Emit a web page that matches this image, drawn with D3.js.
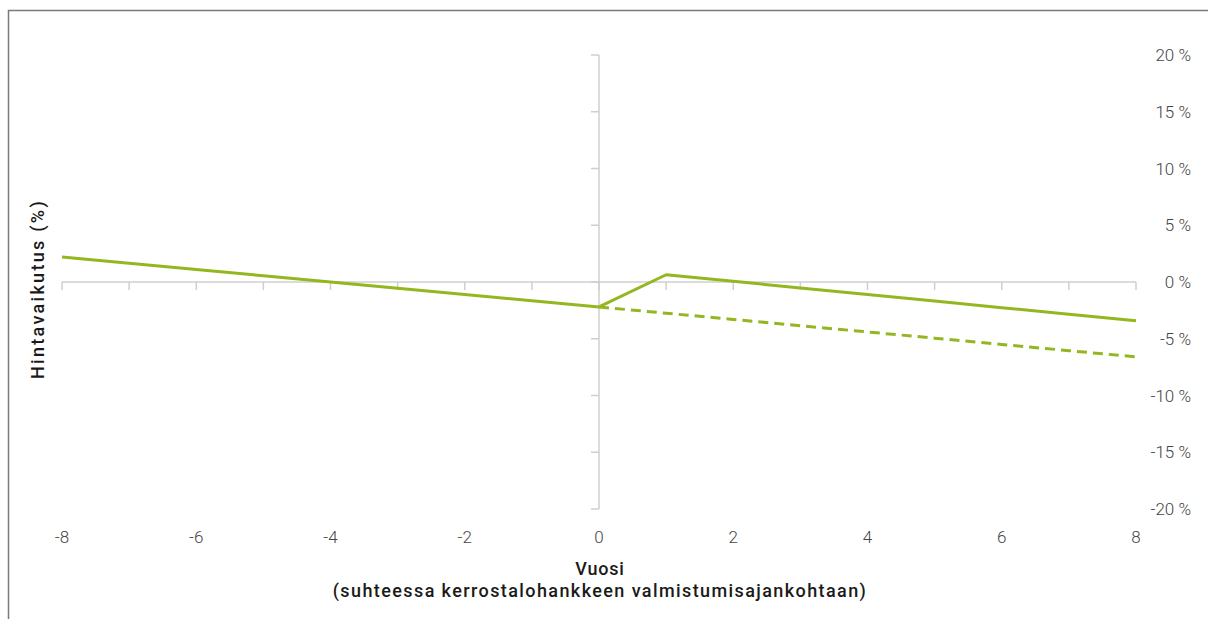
<!DOCTYPE html>
<html><head><meta charset="utf-8">
<script src="https://cdn.jsdelivr.net/npm/d3@7"></script>
<style>body{margin:0;background:#fff;}svg{display:block;}</style>
</head><body>
<svg id="c" width="1208" height="619"></svg>
<script>
const preYears = [-8,-7,-6,-5,-4,-3,-2,-1,0];
const preValues = [2.2,1.65,1.1,0.55,0,-0.55,-1.1,-1.65,-2.2];
const postYears = [0,1,2,3,4,5,6,7,8];
const postValues = [-2.2,0.64,0.06,-0.52,-1.1,-1.68,-2.26,-2.84,-3.42];
const trendYears = [0,1,2,3,4,5,6,7,8];
const trendValues = [-2.2,-2.75,-3.3,-3.85,-4.4,-4.95,-5.5,-6.05,-6.6];
const xTicks = [-8,-6,-4,-2,0,2,4,6,8];
const yTicks = [20,15,10,5,0,-5,-10,-15,-20];

const svg = d3.select('#c');
const x = d3.scaleLinear().domain([-8,8]).range([62,1136]);
const y = d3.scaleLinear().domain([-20,20]).range([509,55]);
const axisCol = '#cfcfcf';
const green = '#94b720';

// frame
svg.append('path').attr('d','M8.5,619 L8.5,10.5 L1208,10.5').attr('fill','none').attr('stroke','#7a7a7a').attr('stroke-width',1.5);

// horizontal axis
svg.append('line').attr('x1',x(-8)).attr('x2',x(8)).attr('y1',y(0)).attr('y2',y(0)).attr('stroke',axisCol).attr('stroke-width',1.5);
svg.selectAll('.xt').data(d3.range(-8,9)).enter().append('line')
  .attr('x1',d=>x(d)).attr('x2',d=>x(d)).attr('y1',y(0)).attr('y2',y(0)+8).attr('stroke',axisCol).attr('stroke-width',1.5);
// vertical axis
svg.append('line').attr('x1',x(0)).attr('x2',x(0)).attr('y1',y(20)).attr('y2',y(-20)).attr('stroke',axisCol).attr('stroke-width',1.5);
svg.selectAll('.yt').data(yTicks).enter().append('line')
  .attr('x1',x(0)-8).attr('x2',x(0)).attr('y1',d=>y(d)).attr('y2',d=>y(d)).attr('stroke',axisCol).attr('stroke-width',1.5);

// tick labels
svg.selectAll('.xl').data(xTicks).enter().append('text')
  .attr('x',d=>x(d)).attr('y',543).attr('text-anchor','middle')
  .attr('font-family','Roboto').attr('font-weight',300).attr('font-size',17).attr('fill','#444')
  .text(d=>d);
svg.selectAll('.yl').data(yTicks).enter().append('text')
  .attr('x',1191).attr('y',d=>y(d)+6).attr('text-anchor','end')
  .attr('font-family','Roboto').attr('font-weight',300).attr('font-size',17).attr('fill','#444')
  .text(d=>d+' %');

// titles
const tf = 'Roboto';
svg.append('text').attr('x',600).attr('y',575).attr('text-anchor','middle').attr('letter-spacing',0.8)
  .attr('font-family',tf).attr('font-weight',500).attr('font-size',18).attr('fill','#1a1a1a').text('Vuosi');
svg.append('text').attr('x',600).attr('y',597).attr('text-anchor','middle').attr('letter-spacing',1.4)
  .attr('font-family',tf).attr('font-weight',500).attr('font-size',18).attr('fill','#1a1a1a').text('(suhteessa kerrostalohankkeen valmistumisajankohtaan)');
svg.append('text').attr('transform','translate(44,289) rotate(-90)').attr('text-anchor','middle').attr('letter-spacing',2.3)
  .attr('font-family',tf).attr('font-weight',500).attr('font-size',18).attr('fill','#1a1a1a').text('Hintavaikutus (%)');

// lines
const line = d3.line().x(d=>x(d[0])).y(d=>y(d[1]));
svg.append('path').datum(trendYears.map((d,i)=>[d,trendValues[i]]))
  .attr('d',line).attr('fill','none').attr('stroke',green).attr('stroke-width',3).attr('stroke-dasharray','10,6');
svg.append('path').datum(preYears.map((d,i)=>[d,preValues[i]]).concat(postYears.slice(1).map((d,i)=>[d,postValues[i+1]])))
  .attr('d',line).attr('fill','none').attr('stroke',green).attr('stroke-width',3).attr('stroke-linejoin','round');
</script>
</body></html>
